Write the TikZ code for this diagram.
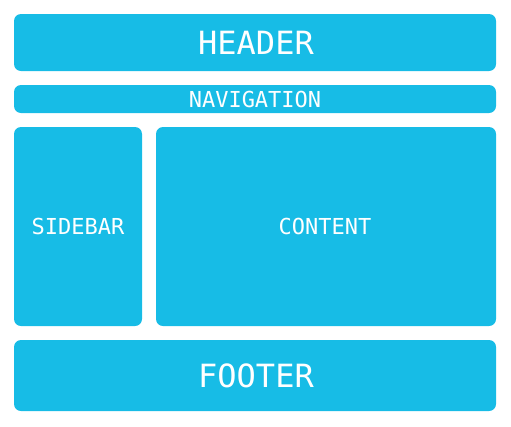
\documentclass[tikz,border=0pt]{standalone}
\usepackage{fontspec}
\setmonofont{DejaVu Sans Mono}
\definecolor{boxblue}{HTML}{17BCE6}
\tikzset{
  panel/.style={fill=boxblue, draw=none, rounded corners=7pt, text=white, font=\ttfamily},
  big/.style={font=\ttfamily\fontsize{32}{32}\selectfont},
  small/.style={font=\ttfamily\fontsize{22}{22}\selectfont}
}
\begin{document}
\begin{tikzpicture}[x=1pt,y=-1pt]
\useasboundingbox (0,0) rectangle (511,426);
\fill[panel] (14,14) rectangle (496,71);
\fill[panel] (14,85) rectangle (496,113);
\fill[panel] (14,127) rectangle (142,326);
\fill[panel] (156,127) rectangle (496,326);
\fill[panel] (14,340) rectangle (496,411);
\node[big,text=white] (header) at (256,42.5) {HEADER};
\node[small,text=white] (nav) at (255,99) {NAVIGATION};
\node[small,text=white] (side) at (78,226.5) {SIDEBAR};
\node[small,text=white] (content) at (325,226.5) {CONTENT};
\node[big,text=white] (footer) at (256,375.5) {FOOTER};
\end{tikzpicture}
\end{document}
